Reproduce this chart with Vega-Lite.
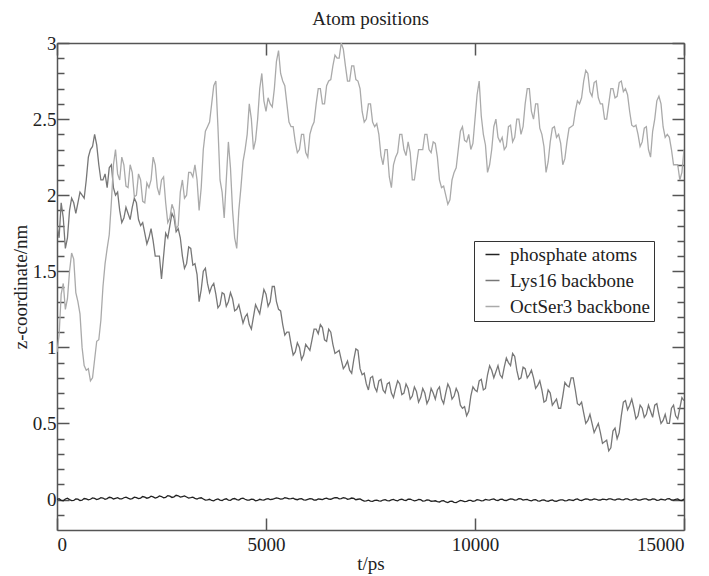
{
"$schema":"https://vega.github.io/schema/vega-lite/v6.json",
"width":627,"height":487,
"autosize":{"type":"none"},
"padding":{"left":57,"top":43,"right":25,"bottom":46},
"background":"white",
"view":{"stroke":null},
"config":{"axis":{"labelFont":"Liberation Serif","titleFont":"Liberation Serif","labelFontSize":19,"titleFontSize":19,"titleFontWeight":"normal","labelColor":"#222","titleColor":"#222","domainColor":"#555","domainWidth":1.5,"tickColor":"#555","tickWidth":1.5,"grid":false}},
"title":{"text":"Atom positions","font":"Liberation Serif","fontSize":19,"fontWeight":"normal","color":"#222","anchor":"middle","offset":5},
"data":{"values":[
{"t":0,"p":0,"l":1.8,"o":0.97},{"t":100,"p":-0.005,"l":1.95,"o":1.35},{"t":200,"p":0.004,"l":1.65,"o":1.25},{"t":300,"p":0,"l":1.9,"o":1.5},{"t":400,"p":-0.006,"l":1.95,"o":1.58},{"t":500,"p":0.003,"l":1.95,"o":1.3},{"t":600,"p":-0.004,"l":2.0,"o":1.0},{"t":700,"p":0.005,"l":2.1,"o":0.85},{"t":800,"p":0.002,"l":2.3,"o":0.78},{"t":900,"p":0.008,"l":2.4,"o":0.92},
{"t":1000,"p":0.004,"l":2.2,"o":1.05},{"t":1100,"p":0.01,"l":2.1,"o":1.4},{"t":1200,"p":0.006,"l":2.05,"o":1.65},{"t":1300,"p":0.012,"l":2.2,"o":1.95},{"t":1400,"p":0.008,"l":2.0,"o":2.3},{"t":1500,"p":0.005,"l":1.9,"o":2.1},{"t":1600,"p":0.012,"l":1.85,"o":2.2},{"t":1700,"p":0.009,"l":1.88,"o":2.05},{"t":1800,"p":0.006,"l":1.92,"o":2.15},{"t":1900,"p":0.013,"l":1.95,"o":2.0},
{"t":2000,"p":0.01,"l":1.8,"o":2.1},{"t":2100,"p":0.016,"l":1.75,"o":1.95},{"t":2200,"p":0.012,"l":1.72,"o":2.05},{"t":2300,"p":0.018,"l":1.7,"o":2.25},{"t":2400,"p":0.014,"l":1.6,"o":2.05},{"t":2500,"p":0.02,"l":1.45,"o":2.1},{"t":2600,"p":0.015,"l":1.75,"o":1.95},{"t":2700,"p":0.022,"l":1.8,"o":1.85},{"t":2800,"p":0.018,"l":1.85,"o":1.9},{"t":2900,"p":0.025,"l":1.78,"o":1.8},
{"t":3000,"p":0.02,"l":1.6,"o":2.1},{"t":3100,"p":0.017,"l":1.55,"o":2.0},{"t":3200,"p":0.012,"l":1.65,"o":2.15},{"t":3300,"p":0.008,"l":1.55,"o":2.2},{"t":3400,"p":0.01,"l":1.3,"o":1.9},{"t":3500,"p":0.004,"l":1.5,"o":2.3},{"t":3600,"p":-0.002,"l":1.42,"o":2.45},{"t":3700,"p":-0.006,"l":1.4,"o":2.6},{"t":3800,"p":0,"l":1.35,"o":2.75},{"t":3900,"p":-0.004,"l":1.28,"o":2.1},
{"t":4000,"p":0.002,"l":1.35,"o":1.85},{"t":4100,"p":-0.003,"l":1.3,"o":2.35},{"t":4200,"p":0.004,"l":1.32,"o":1.9},{"t":4300,"p":0,"l":1.25,"o":1.65},{"t":4400,"p":0.006,"l":1.22,"o":2.05},{"t":4500,"p":0.002,"l":1.2,"o":2.3},{"t":4600,"p":-0.004,"l":1.15,"o":2.6},{"t":4700,"p":0.001,"l":1.2,"o":2.3},{"t":4800,"p":-0.006,"l":1.25,"o":2.5},{"t":4900,"p":-0.002,"l":1.3,"o":2.8},
{"t":5000,"p":0.003,"l":1.35,"o":2.55},{"t":5100,"p":0,"l":1.3,"o":2.6},{"t":5200,"p":0.006,"l":1.4,"o":2.7},{"t":5300,"p":0.008,"l":1.25,"o":2.95},{"t":5400,"p":0.004,"l":1.15,"o":2.75},{"t":5500,"p":0.01,"l":1.1,"o":2.6},{"t":5600,"p":0.006,"l":1.02,"o":2.45},{"t":5700,"p":0.002,"l":0.97,"o":2.35},{"t":5800,"p":0.005,"l":1.0,"o":2.3},{"t":5900,"p":-0.002,"l":0.95,"o":2.4},
{"t":6000,"p":0.001,"l":1.0,"o":2.25},{"t":6100,"p":0.004,"l":1.05,"o":2.45},{"t":6200,"p":-0.003,"l":1.12,"o":2.6},{"t":6300,"p":0.002,"l":1.15,"o":2.7},{"t":6400,"p":0.006,"l":1.05,"o":2.6},{"t":6500,"p":0.003,"l":1.12,"o":2.75},{"t":6600,"p":0.008,"l":1.02,"o":2.85},{"t":6700,"p":0.012,"l":0.97,"o":2.9},{"t":6800,"p":0.006,"l":0.92,"o":3.0},{"t":6900,"p":0.01,"l":0.88,"o":2.85},
{"t":7000,"p":0.004,"l":0.85,"o":2.75},{"t":7100,"p":0.008,"l":0.92,"o":2.85},{"t":7200,"p":0.002,"l":0.98,"o":2.75},{"t":7300,"p":-0.004,"l":0.82,"o":2.55},{"t":7400,"p":-0.008,"l":0.76,"o":2.5},{"t":7500,"p":-0.01,"l":0.8,"o":2.6},{"t":7600,"p":-0.005,"l":0.74,"o":2.45},{"t":7700,"p":-0.009,"l":0.78,"o":2.4},{"t":7800,"p":-0.003,"l":0.72,"o":2.2},{"t":7900,"p":-0.007,"l":0.76,"o":2.3},
{"t":8000,"p":-0.002,"l":0.7,"o":2.05},{"t":8100,"p":-0.006,"l":0.73,"o":2.25},{"t":8200,"p":0,"l":0.76,"o":2.4},{"t":8300,"p":-0.004,"l":0.7,"o":2.3},{"t":8400,"p":0.002,"l":0.73,"o":2.35},{"t":8500,"p":-0.003,"l":0.68,"o":2.1},{"t":8600,"p":-0.006,"l":0.71,"o":2.2},{"t":8700,"p":-0.001,"l":0.67,"o":2.3},{"t":8800,"p":-0.008,"l":0.7,"o":2.4},{"t":8900,"p":-0.004,"l":0.66,"o":2.3},
{"t":9000,"p":-0.01,"l":0.7,"o":2.35},{"t":9100,"p":-0.014,"l":0.72,"o":2.25},{"t":9200,"p":-0.009,"l":0.66,"o":2.05},{"t":9300,"p":-0.016,"l":0.7,"o":2.0},{"t":9400,"p":-0.012,"l":0.73,"o":1.97},{"t":9500,"p":-0.018,"l":0.68,"o":2.15},{"t":9600,"p":-0.013,"l":0.7,"o":2.3},{"t":9700,"p":-0.008,"l":0.6,"o":2.45},{"t":9800,"p":-0.012,"l":0.55,"o":2.35},{"t":9900,"p":-0.006,"l":0.68,"o":2.3},
{"t":10000,"p":-0.009,"l":0.72,"o":2.5},{"t":10100,"p":-0.003,"l":0.78,"o":2.75},{"t":10200,"p":-0.007,"l":0.72,"o":2.4},{"t":10300,"p":-0.002,"l":0.82,"o":2.15},{"t":10400,"p":0.002,"l":0.85,"o":2.3},{"t":10500,"p":-0.004,"l":0.84,"o":2.5},{"t":10600,"p":0.001,"l":0.82,"o":2.35},{"t":10700,"p":-0.005,"l":0.87,"o":2.3},{"t":10800,"p":0,"l":0.9,"o":2.45},{"t":10900,"p":0.003,"l":0.96,"o":2.35},
{"t":11000,"p":-0.002,"l":0.85,"o":2.5},{"t":11100,"p":0.004,"l":0.8,"o":2.4},{"t":11200,"p":-0.001,"l":0.86,"o":2.6},{"t":11300,"p":-0.006,"l":0.82,"o":2.7},{"t":11400,"p":-0.002,"l":0.8,"o":2.5},{"t":11500,"p":-0.008,"l":0.75,"o":2.6},{"t":11600,"p":-0.004,"l":0.72,"o":2.4},{"t":11700,"p":-0.009,"l":0.65,"o":2.15},{"t":11800,"p":-0.005,"l":0.7,"o":2.35},{"t":11900,"p":-0.01,"l":0.64,"o":2.45},
{"t":12000,"p":-0.006,"l":0.6,"o":2.4},{"t":12100,"p":-0.002,"l":0.68,"o":2.2},{"t":12200,"p":-0.007,"l":0.75,"o":2.35},{"t":12300,"p":-0.003,"l":0.8,"o":2.45},{"t":12400,"p":0.001,"l":0.72,"o":2.55},{"t":12500,"p":-0.004,"l":0.62,"o":2.6},{"t":12600,"p":0,"l":0.57,"o":2.75},{"t":12700,"p":0.003,"l":0.52,"o":2.8},{"t":12800,"p":-0.002,"l":0.5,"o":2.65},{"t":12900,"p":0.002,"l":0.47,"o":2.75},
{"t":13000,"p":-0.003,"l":0.44,"o":2.6},{"t":13100,"p":0.001,"l":0.38,"o":2.5},{"t":13200,"p":0.004,"l":0.32,"o":2.6},{"t":13300,"p":-0.001,"l":0.45,"o":2.7},{"t":13400,"p":0.003,"l":0.4,"o":2.65},{"t":13500,"p":0,"l":0.55,"o":2.75},{"t":13600,"p":0.004,"l":0.65,"o":2.7},{"t":13700,"p":-0.002,"l":0.62,"o":2.55},{"t":13800,"p":0.002,"l":0.6,"o":2.45},{"t":13900,"p":-0.003,"l":0.55,"o":2.4},
{"t":14000,"p":0.001,"l":0.6,"o":2.35},{"t":14100,"p":0.004,"l":0.56,"o":2.45},{"t":14200,"p":-0.002,"l":0.58,"o":2.25},{"t":14300,"p":0.003,"l":0.62,"o":2.5},{"t":14400,"p":-0.004,"l":0.56,"o":2.65},{"t":14500,"p":0,"l":0.52,"o":2.45},{"t":14600,"p":0.005,"l":0.5,"o":2.4},{"t":14700,"p":-0.003,"l":0.6,"o":2.3},{"t":14800,"p":0.002,"l":0.55,"o":2.2},{"t":14900,"p":-0.005,"l":0.6,"o":2.1},
{"t":15000,"p":0.004,"l":0.65,"o":2.3},
{"t":50,"p":0.006,"l":1.72,"o":1.08},{"t":150,"p":-0.008,"l":1.85,"o":1.42},{"t":250,"p":0.009,"l":1.72,"o":1.32},{"t":350,"p":-0.007,"l":1.98,"o":1.62},{"t":450,"p":0.004,"l":1.88,"o":1.36},{"t":550,"p":-0.006,"l":2.02,"o":1.22},{"t":650,"p":0.007,"l":1.98,"o":0.88},{"t":750,"p":-0.002,"l":2.25,"o":0.86},{"t":850,"p":0.011,"l":2.32,"o":0.8},{"t":950,"p":0,"l":2.33,"o":1.04},
{"t":1050,"p":0.013,"l":2.1,"o":1.18},{"t":1150,"p":0.002,"l":2.14,"o":1.55},{"t":1250,"p":0.015,"l":2.18,"o":1.74},{"t":1350,"p":0.004,"l":2.05,"o":2.2},{"t":1450,"p":0.012,"l":2.02,"o":2.14},{"t":1550,"p":0.004,"l":1.82,"o":2.25},{"t":1650,"p":0.016,"l":1.92,"o":2.06},{"t":1750,"p":0.003,"l":1.84,"o":2.2},{"t":1850,"p":0.016,"l":1.98,"o":1.99},{"t":1950,"p":0.006,"l":1.84,"o":2.14},
{"t":2050,"p":0.02,"l":1.82,"o":1.96},{"t":2150,"p":0.009,"l":1.68,"o":2.08},{"t":2250,"p":0.022,"l":1.78,"o":2.1},{"t":2350,"p":0.01,"l":1.6,"o":2.2},{"t":2450,"p":0.024,"l":1.6,"o":2.0},{"t":2550,"p":0.012,"l":1.6,"o":2.12},{"t":2650,"p":0.026,"l":1.72,"o":1.82},{"t":2750,"p":0.014,"l":1.88,"o":1.94},{"t":2850,"p":0.028,"l":1.76,"o":1.78},{"t":2950,"p":0.016,"l":1.72,"o":2.02},
{"t":3050,"p":0.024,"l":1.52,"o":1.98},{"t":3150,"p":0.01,"l":1.66,"o":2.15},{"t":3250,"p":0.016,"l":1.54,"o":2.12},{"t":3350,"p":0.003,"l":1.48,"o":2.1},{"t":3450,"p":0.012,"l":1.38,"o":2.05},{"t":3550,"p":-0.004,"l":1.52,"o":2.42},{"t":3650,"p":0.002,"l":1.36,"o":2.48},{"t":3750,"p":-0.008,"l":1.42,"o":2.72},{"t":3850,"p":0.004,"l":1.26,"o":2.45},{"t":3950,"p":-0.007,"l":1.36,"o":2.02},
{"t":4050,"p":0.005,"l":1.27,"o":2.1},{"t":4150,"p":-0.005,"l":1.36,"o":2.18},{"t":4250,"p":0.007,"l":1.24,"o":1.72},{"t":4350,"p":-0.003,"l":1.28,"o":1.9},{"t":4450,"p":0.009,"l":1.16,"o":2.22},{"t":4550,"p":-0.004,"l":1.22,"o":2.4},{"t":4650,"p":0.003,"l":1.12,"o":2.5},{"t":4750,"p":-0.008,"l":1.28,"o":2.36},{"t":4850,"p":0.002,"l":1.22,"o":2.7},{"t":4950,"p":-0.004,"l":1.38,"o":2.62},
{"t":5050,"p":0.006,"l":1.27,"o":2.64},{"t":5150,"p":0.002,"l":1.4,"o":2.58},{"t":5250,"p":0.011,"l":1.3,"o":2.88},{"t":5350,"p":0.003,"l":1.24,"o":2.8},{"t":5450,"p":0.012,"l":1.08,"o":2.72},{"t":5550,"p":0.004,"l":1.1,"o":2.48},{"t":5650,"p":0.009,"l":0.95,"o":2.45},{"t":5750,"p":-0.001,"l":1.03,"o":2.28},{"t":5850,"p":0.006,"l":0.92,"o":2.4},{"t":5950,"p":-0.004,"l":1.02,"o":2.28},
{"t":6050,"p":0.006,"l":0.98,"o":2.4},{"t":6150,"p":-0.004,"l":1.12,"o":2.48},{"t":6250,"p":0.004,"l":1.09,"o":2.7},{"t":6350,"p":0,"l":1.13,"o":2.6},{"t":6450,"p":0.009,"l":1.04,"o":2.72},{"t":6550,"p":0.002,"l":1.1,"o":2.76},{"t":6650,"p":0.013,"l":0.96,"o":2.92},{"t":6750,"p":0.005,"l":0.98,"o":2.9},{"t":6850,"p":0.012,"l":0.86,"o":2.96},{"t":6950,"p":0.002,"l":0.91,"o":2.75},
{"t":7050,"p":0.01,"l":0.83,"o":2.85},{"t":7150,"p":-0.001,"l":0.99,"o":2.76},{"t":7250,"p":0.004,"l":0.86,"o":2.7},{"t":7350,"p":-0.01,"l":0.83,"o":2.48},{"t":7450,"p":-0.004,"l":0.72,"o":2.6},{"t":7550,"p":-0.012,"l":0.81,"o":2.48},{"t":7650,"p":-0.004,"l":0.71,"o":2.47},{"t":7750,"p":-0.01,"l":0.79,"o":2.26},{"t":7850,"p":-0.001,"l":0.7,"o":2.3},{"t":7950,"p":-0.009,"l":0.77,"o":2.12},
{"t":8050,"p":0.001,"l":0.67,"o":2.2},{"t":8150,"p":-0.008,"l":0.78,"o":2.28},{"t":8250,"p":0.002,"l":0.69,"o":2.4},{"t":8350,"p":-0.006,"l":0.76,"o":2.26},{"t":8450,"p":0.003,"l":0.66,"o":2.28},{"t":8550,"p":-0.008,"l":0.74,"o":2.1},{"t":8650,"p":0.001,"l":0.64,"o":2.3},{"t":8750,"p":-0.01,"l":0.73,"o":2.3},{"t":8850,"p":-0.002,"l":0.63,"o":2.4},{"t":8950,"p":-0.011,"l":0.73,"o":2.28},
{"t":9050,"p":-0.008,"l":0.66,"o":2.34},{"t":9150,"p":-0.016,"l":0.74,"o":2.1},{"t":9250,"p":-0.008,"l":0.63,"o":2.06},{"t":9350,"p":-0.02,"l":0.76,"o":1.94},{"t":9450,"p":-0.01,"l":0.66,"o":2.1},{"t":9550,"p":-0.02,"l":0.73,"o":2.18},{"t":9650,"p":-0.006,"l":0.62,"o":2.42},{"t":9750,"p":-0.014,"l":0.61,"o":2.36},{"t":9850,"p":-0.005,"l":0.58,"o":2.4},{"t":9950,"p":-0.012,"l":0.74,"o":2.34},
{"t":10050,"p":-0.001,"l":0.71,"o":2.66},{"t":10150,"p":-0.009,"l":0.79,"o":2.52},{"t":10250,"p":0.001,"l":0.73,"o":2.33},{"t":10350,"p":-0.004,"l":0.88,"o":2.2},{"t":10450,"p":0.004,"l":0.8,"o":2.45},{"t":10550,"p":-0.006,"l":0.88,"o":2.38},{"t":10650,"p":0.003,"l":0.8,"o":2.38},{"t":10750,"p":-0.006,"l":0.93,"o":2.32},{"t":10850,"p":0.005,"l":0.88,"o":2.46},{"t":10950,"p":-0.004,"l":0.94,"o":2.38},
{"t":11050,"p":0.006,"l":0.79,"o":2.5},{"t":11150,"p":-0.004,"l":0.87,"o":2.45},{"t":11250,"p":0.001,"l":0.8,"o":2.7},{"t":11350,"p":-0.008,"l":0.85,"o":2.55},{"t":11450,"p":0,"l":0.73,"o":2.6},{"t":11550,"p":-0.01,"l":0.78,"o":2.44},{"t":11650,"p":-0.002,"l":0.64,"o":2.32},{"t":11750,"p":-0.011,"l":0.72,"o":2.22},{"t":11850,"p":-0.003,"l":0.62,"o":2.44},{"t":11950,"p":-0.011,"l":0.66,"o":2.38},
{"t":12050,"p":-0.002,"l":0.6,"o":2.34},{"t":12150,"p":-0.008,"l":0.77,"o":2.24},{"t":12250,"p":-0.001,"l":0.74,"o":2.44},{"t":12350,"p":-0.006,"l":0.8,"o":2.46},{"t":12450,"p":0.004,"l":0.63,"o":2.62},{"t":12550,"p":-0.006,"l":0.64,"o":2.64},{"t":12650,"p":0.004,"l":0.5,"o":2.82},{"t":12750,"p":-0.003,"l":0.56,"o":2.68},{"t":12850,"p":0.004,"l":0.44,"o":2.74},{"t":12950,"p":-0.004,"l":0.5,"o":2.64},
{"t":13050,"p":0.003,"l":0.37,"o":2.6},{"t":13150,"p":-0.002,"l":0.39,"o":2.5},{"t":13250,"p":0.005,"l":0.34,"o":2.7},{"t":13350,"p":-0.003,"l":0.47,"o":2.64},{"t":13450,"p":0.005,"l":0.44,"o":2.74},{"t":13550,"p":-0.002,"l":0.64,"o":2.68},{"t":13650,"p":0.005,"l":0.59,"o":2.66},{"t":13750,"p":-0.004,"l":0.66,"o":2.46},{"t":13850,"p":0.004,"l":0.53,"o":2.46},{"t":13950,"p":-0.004,"l":0.62,"o":2.32},
{"t":14050,"p":0.005,"l":0.54,"o":2.44},{"t":14150,"p":-0.003,"l":0.62,"o":2.3},{"t":14250,"p":0.005,"l":0.54,"o":2.42},{"t":14350,"p":-0.005,"l":0.63,"o":2.62},{"t":14450,"p":0.002,"l":0.5,"o":2.6},{"t":14550,"p":-0.003,"l":0.56,"o":2.38},{"t":14650,"p":0.006,"l":0.5,"o":2.38},{"t":14750,"p":-0.004,"l":0.62,"o":2.2},{"t":14850,"p":0.004,"l":0.53,"o":2.2},{"t":14950,"p":-0.006,"l":0.67,"o":2.15}
]},
"transform":[{"fold":["p","l","o"],"as":["s","z"]}],
"layer":[
{"mark":{"type":"line","strokeWidth":1.3,"clip":true},
 "encoding":{
  "x":{"field":"t","type":"quantitative","scale":{"domain":[0,15000],"nice":false,"zero":false},
       "axis":{"orient":"bottom","values":[0,5000,10000,15000],"format":"d","title":"t/ps","tickSize":-12,"labelPadding":17,"titlePadding":0}},
  "y":{"field":"z","type":"quantitative","scale":{"domain":[-0.2,3],"nice":false,"zero":false},
       "axis":{"orient":"left","values":[0,0.5,1,1.5,2,2.5,3],"format":"~g","title":"z-coordinate/nm","tickSize":-12,"labelPadding":13,"titlePadding":2}},
  "color":{"field":"s","type":"nominal","scale":{"domain":["p","l","o"],"range":["#222222","#777777","#aaaaaa"]},
       "legend":{"orient":"none","legendX":417,"legendY":198,"title":null,"symbolType":"stroke","symbolSize":196,"symbolStrokeWidth":1.5,"labelFont":"Liberation Serif","labelFontSize":19,"labelColor":"#222","strokeColor":"#333","fillColor":"white","padding":4,"rowPadding":6,"labelOffset":8,"symbolOffset":5,
       "labelExpr":"{'p':'phosphate atoms','l':'Lys16 backbone','o':'OctSer3 backbone'}[datum.value]"}}
 }},
{"mark":{"type":"line","opacity":0},
 "encoding":{
  "x":{"field":"t","type":"quantitative","axis":{"orient":"top","values":[0,5000,10000,15000],"labels":false,"title":null,"tickSize":-12}},
  "y":{"field":"z","type":"quantitative","axis":{"orient":"right","values":[0,0.5,1,1.5,2,2.5,3],"labels":false,"title":null,"tickSize":-12}},
  "detail":{"field":"s"}
 }},
{"mark":{"type":"line","opacity":0},
 "encoding":{
  "x":{"field":"t","type":"quantitative","axis":null},
  "y":{"field":"z","type":"quantitative","axis":{"orient":"left","values":[-0.1,0.1,0.2,0.3,0.4,0.6,0.7,0.8,0.9,1.1,1.2,1.3,1.4,1.6,1.7,1.8,1.9,2.1,2.2,2.3,2.4,2.6,2.7,2.8,2.9],"labels":false,"title":null,"domain":false,"tickSize":-7}},
  "detail":{"field":"s"}
 }},
{"mark":{"type":"line","opacity":0},
 "encoding":{
  "x":{"field":"t","type":"quantitative","axis":null},
  "y":{"field":"z","type":"quantitative","axis":{"orient":"right","values":[-0.1,0.1,0.2,0.3,0.4,0.6,0.7,0.8,0.9,1.1,1.2,1.3,1.4,1.6,1.7,1.8,1.9,2.1,2.2,2.3,2.4,2.6,2.7,2.8,2.9],"labels":false,"title":null,"domain":false,"tickSize":-7}},
  "detail":{"field":"s"}
 }}
],
"resolve":{"axis":{"x":"independent","y":"independent"}}
}
